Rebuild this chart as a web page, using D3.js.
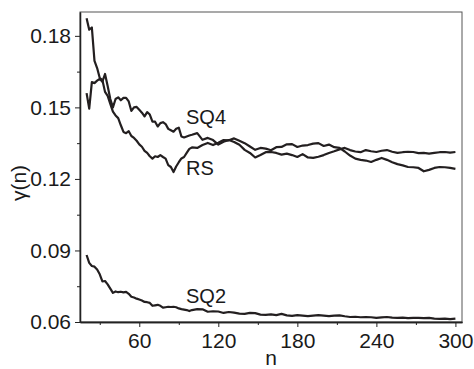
<!DOCTYPE html>
<html>
<head>
<meta charset="utf-8">
<script src="https://cdn.jsdelivr.net/npm/d3@7/dist/d3.min.js"></script>
<style>
  body { margin: 0; background: #fff; }
  svg { display: block; font-family: "Liberation Sans", Arial, sans-serif; }
  .axis text { font-size: 21px; fill: #1a1a1a; }
  .axis path, .axis line { stroke: #222; }
</style>
</head>
<body>
<svg id="chart" width="474" height="369"></svg>
<script>
// n values shared by the three curves
var nValues = [
  20, 22, 24, 26, 28, 30, 32, 34, 36, 38,
  40, 42, 44, 46, 48, 50, 52, 54, 56, 58,
  60, 62, 64, 66, 68, 70, 72, 74, 76, 78,
  80, 82, 84, 86, 88, 90, 92, 94, 96, 98,
  100, 104, 108, 112, 116, 120, 124, 128, 132, 136,
  140, 144, 148, 152, 156, 160, 164, 168, 172, 176,
  180, 184, 188, 192, 196, 200, 204, 208, 212, 216,
  220, 224, 228, 232, 236, 240, 244, 248, 252, 256,
  260, 264, 268, 272, 276, 280, 284, 288, 292, 296,
  300
];

var rsValues = [
  0.1874, 0.1826, 0.1835, 0.1695, 0.1665, 0.1623, 0.1615, 0.1565, 0.1548, 0.1515,
  0.1482, 0.1466, 0.1455, 0.1425, 0.1397, 0.1392, 0.1400, 0.1380, 0.1372, 0.1360,
  0.1345, 0.1335, 0.1318, 0.1309, 0.1295, 0.1285, 0.1295, 0.1292, 0.1300, 0.1292,
  0.1285, 0.1258, 0.1250, 0.1229, 0.1252, 0.1270, 0.1286, 0.1292, 0.1309, 0.1326,
  0.1332, 0.1330, 0.1342, 0.1351, 0.1342, 0.1352, 0.1363, 0.1362, 0.1370, 0.1360,
  0.1350, 0.1336, 0.1322, 0.1330, 0.1327, 0.1320, 0.1333, 0.1334, 0.1345, 0.1346,
  0.1334, 0.1340, 0.1342, 0.1348, 0.1350, 0.1338, 0.1344, 0.1333, 0.1330, 0.1315,
  0.1298, 0.1285, 0.1280, 0.1277, 0.1271, 0.1280, 0.1288, 0.1280, 0.1270, 0.1262,
  0.1257, 0.1250, 0.1249, 0.1246, 0.1232, 0.1238, 0.1246, 0.1250, 0.1249, 0.1246,
  0.1242
];

var sq4Values = [
  0.1560, 0.1495, 0.1606, 0.1602, 0.1612, 0.1620, 0.1608, 0.1640, 0.1590, 0.1535,
  0.1500, 0.1535, 0.1542, 0.1530, 0.1540, 0.1540, 0.1525, 0.1485, 0.1500, 0.1502,
  0.1490, 0.1478, 0.1462, 0.1480, 0.1470, 0.1440, 0.1440, 0.1420, 0.1434, 0.1438,
  0.1430, 0.1410, 0.1404, 0.1398, 0.1410, 0.1415, 0.1378, 0.1374, 0.1378, 0.1382,
  0.1385, 0.1392, 0.1364, 0.1372, 0.1363, 0.1344, 0.1356, 0.1363, 0.1355, 0.1343,
  0.1322, 0.1309, 0.1290, 0.1300, 0.1312, 0.1313, 0.1309, 0.1302, 0.1306, 0.1300,
  0.1292, 0.1304, 0.1290, 0.1288, 0.1293, 0.1300, 0.1309, 0.1316, 0.1324, 0.1330,
  0.1321, 0.1315, 0.1312, 0.1321, 0.1316, 0.1313, 0.1318, 0.1321, 0.1314, 0.1309,
  0.1312, 0.1314, 0.1313, 0.1308, 0.1309, 0.1306, 0.1309, 0.1312, 0.1313, 0.1310,
  0.1313
];

var sq2Values = [
  0.0881, 0.0848, 0.0835, 0.0832, 0.0820, 0.0800, 0.0770, 0.0772, 0.0758, 0.0740,
  0.0722, 0.0728, 0.0725, 0.0727, 0.0724, 0.0726, 0.0718, 0.0706, 0.0703, 0.0698,
  0.0694, 0.0690, 0.0684, 0.0683, 0.0680, 0.0668, 0.0670, 0.0672, 0.0668, 0.0660,
  0.0662, 0.0664, 0.0663, 0.0664, 0.0662, 0.0657, 0.0654, 0.0652, 0.0650, 0.0646,
  0.0650, 0.0654, 0.0653, 0.0643, 0.0645, 0.0644, 0.0638, 0.0642, 0.0639, 0.0635,
  0.0634, 0.0638, 0.0637, 0.0631, 0.0630, 0.0632, 0.0629, 0.0634, 0.0628, 0.0626,
  0.0629, 0.0627, 0.0625, 0.0627, 0.0629, 0.0627, 0.0625, 0.0627, 0.0628, 0.0624,
  0.0621, 0.0622, 0.0620, 0.0621, 0.0620, 0.0617, 0.0619, 0.0621, 0.0618, 0.0617,
  0.0618, 0.0616, 0.0617, 0.0617, 0.0616, 0.0617, 0.0614, 0.0613, 0.0614, 0.0612,
  0.0614
];

var seriesNames = ['RS', 'SQ4', 'SQ2'];
var xTicks = [60, 120, 180, 240, 300];
var xMinorTicks = [30, 90, 150, 210, 270];
var yTicks = [0.06, 0.09, 0.12, 0.15, 0.18];
var yMinorTicks = [0.075, 0.105, 0.135, 0.165];

var margin = {top: 12, right: 12, bottom: 47, left: 80};
var svg = d3.select('#chart');
var width = +svg.attr('width') - margin.left - margin.right;
var height = +svg.attr('height') - margin.top - margin.bottom;

var g = svg.append('g')
  .attr('transform', 'translate(' + margin.left + ',' + margin.top + ')');

var x = d3.scaleLinear().domain([15, 305]).range([0, width]);
var y = d3.scaleLinear().domain([0.06, 0.19]).range([height, 0]);

// frame (top / right sides)
g.append('rect')
  .attr('width', width)
  .attr('height', height)
  .attr('fill', 'none')
  .attr('stroke', '#555')
  .attr('stroke-width', 1);

// minor ticks first, then the labelled axes
g.append('g')
  .attr('class', 'axis')
  .attr('transform', 'translate(0,' + height + ')')
  .call(d3.axisBottom(x).tickValues(xMinorTicks).tickSize(3).tickSizeOuter(0).tickFormat(''));
g.append('g')
  .attr('class', 'axis')
  .call(d3.axisLeft(y).tickValues(yMinorTicks).tickSize(3).tickSizeOuter(0).tickFormat(''));

g.append('g')
  .attr('class', 'axis')
  .attr('transform', 'translate(0,' + height + ')')
  .call(d3.axisBottom(x).tickValues(xTicks).tickSize(5).tickSizeOuter(0).tickPadding(6)
    .tickFormat(d3.format('d')));

g.append('g')
  .attr('class', 'axis')
  .call(d3.axisLeft(y).tickValues(yTicks).tickSize(5).tickSizeOuter(0).tickPadding(4)
    .tickFormat(d3.format('.2f')));

g.selectAll('.axis path').attr('stroke-width', 1.3);

// curves
var line = d3.line()
  .x(function(d) { return x(d[0]); })
  .y(function(d) { return y(d[1]); });

[rsValues, sq4Values, sq2Values].forEach(function(vals) {
  g.append('path')
    .datum(nValues.map(function(n, i) { return [n, vals[i]]; }))
    .attr('fill', 'none')
    .attr('stroke', '#231f20')
    .attr('stroke-width', 2.2)
    .attr('stroke-linejoin', 'round')
    .attr('d', line);
});

// curve labels, anchored in data space
var labelAnchors = {RS: [95.5, 0.1216], SQ4: [95.5, 0.1430], SQ2: [95.5, 0.0680]};
seriesNames.forEach(function(name) {
  g.append('text')
    .attr('x', x(labelAnchors[name][0]))
    .attr('y', y(labelAnchors[name][1]))
    .attr('font-size', 20)
    .attr('fill', '#1a1a1a')
    .text(name);
});

// axis titles
g.append('text')
  .attr('x', width / 2)
  .attr('y', height + 43)
  .attr('text-anchor', 'middle')
  .attr('font-size', 21)
  .attr('fill', '#1a1a1a')
  .text('n');

g.append('text')
  .attr('transform', 'translate(' + (26 - margin.left) + ',' + (183 - margin.top) + ') rotate(-90)')
  .attr('text-anchor', 'middle')
  .attr('font-size', 21)
  .attr('fill', '#1a1a1a')
  .text('γ(n)');
</script>
</body>
</html>
